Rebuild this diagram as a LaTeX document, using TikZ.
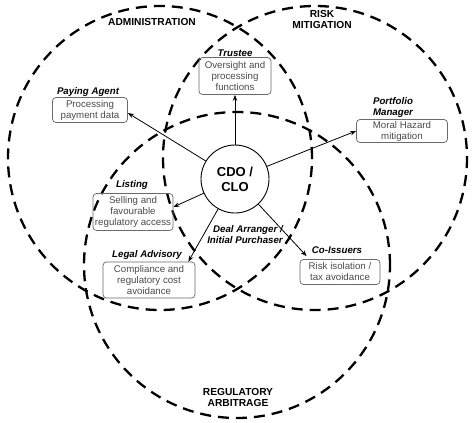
\documentclass[tikz,border=0pt]{standalone}
\usepackage{fontspec}
\setmainfont{Liberation Sans}
\usetikzlibrary{arrows.meta}
\definecolor{boxgray}{HTML}{6A6A6A}
\definecolor{textgray}{HTML}{4A4A4A}
\begin{document}
\begin{tikzpicture}[x=1pt,y=-1pt,
  venn/.style={line width=2.3pt, dash pattern=on 11pt off 7pt},
  boxnode/.style={draw=boxgray, line width=0.75pt, rounded corners=3.5pt, text=textgray,
    font=\fontsize{9.7}{11}\selectfont, align=center, inner sep=0pt},
  role/.style={font=\fontsize{9.7}{11}\selectfont\bfseries\itshape, align=center, inner sep=0pt},
  area/.style={font=\fontsize{10.2}{11}\selectfont\bfseries, align=center, inner sep=0pt},
  conn/.style={-{Stealth[length=6pt,width=4.5pt]}, line width=0.8pt}
]
\useasboundingbox (0,0) rectangle (474,423);
% Venn circles
\draw[venn] (160,158) circle[radius=152pt];
\draw[venn, dash phase=9pt] (315,158) circle[radius=152pt];
\draw[venn] (237,265) circle[radius=153pt];
% Area labels
\node[area] (admin) at (152,22) {ADMINISTRATION};
\node[area] (risk) at (322,19.5) {RISK\\MITIGATION};
\node[area] (reg) at (238,397.5) {REGULATORY\\ARBITRAGE};
% Centre
\node[draw, circle, line width=0.9pt, minimum size=68pt, inner sep=0pt,
  font=\fontsize{13}{15}\selectfont\bfseries, align=center] (cdo) at (235,179) {CDO /\\CLO};
% Boxes
\node[boxnode, minimum width=72pt, minimum height=37pt] (trustbox) at (235,76) {Oversight and\\processing\\functions};
\node[role] (trustlab) at (235,53) {Trustee};
\node[boxnode, minimum width=75pt, minimum height=25pt] (paybox) at (90,110) {Processing\\payment data};
\node[role] (paylab) at (88,92) {Paying Agent};
\node[boxnode, minimum width=91pt, minimum height=23pt] (portbox) at (402,131) {Moral Hazard\\mitigation};
\node[role] (portlab) at (393,107) {Portfolio\\Manager};
\node[boxnode, minimum width=80pt, minimum height=37pt] (listbox) at (133,212) {Selling and\\favourable\\regulatory access};
\node[role] (listlab) at (132,185) {Listing};
\node[boxnode, minimum width=92pt, minimum height=36pt] (legalbox) at (149,280) {Compliance and\\regulatory cost\\avoidance};
\node[role] (legallab) at (147,255) {Legal Advisory};
\node[boxnode, minimum width=80pt, minimum height=25pt] (coibox) at (340,272) {Risk isolation /\\tax avoidance};
\node[role] (coilab) at (337,250) {Co-Issuers};
\node[role, align=right] (deallab) at (245,235) {Deal Arranger /\\Initial Purchaser};
% Connectors
\draw[conn] (cdo) -- (trustbox.south);
\draw[conn] (cdo) -- ([yshift=-3pt]paybox.east);
\draw[conn] (cdo) -- (portbox.west);
\draw[conn] (cdo) -- ([yshift=5pt]listbox.east);
\draw[conn] (cdo) -- ([xshift=-7pt]legalbox.north east);
\draw[conn] (cdo) -- ([xshift=7pt,yshift=3pt]coibox.north west);
\end{tikzpicture}
\end{document}
